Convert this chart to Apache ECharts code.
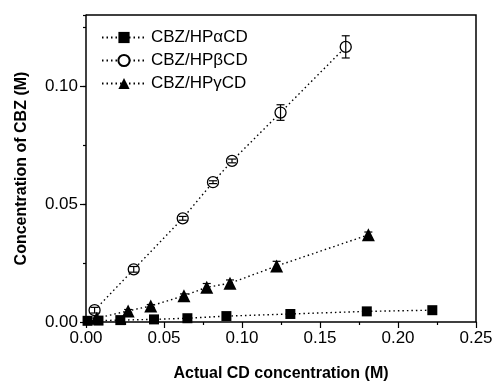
<!DOCTYPE html>
<html>
<head>
<meta charset="utf-8">
<script src="https://cdn.jsdelivr.net/npm/echarts@6/dist/echarts.min.js"></script>
<style>
  html, body { margin: 0; padding: 0; background: #fff; }
  #chart { width: 496px; height: 383px; }
</style>
</head>
<body>
<div id="chart"></div>
<script>
// CBZ/HPaCD
var alphaX = [0.001, 0.008, 0.022, 0.0436, 0.065, 0.090, 0.131, 0.180, 0.222];
var alphaY = [0.0005, 0.0006, 0.0008, 0.0011, 0.0016, 0.0025, 0.0034, 0.0045, 0.005];

// CBZ/HPbCD
var betaX = [0.0055, 0.0306, 0.062, 0.0814, 0.0936, 0.1247, 0.1665];
var betaY = [0.005, 0.0223, 0.0439, 0.0592, 0.0682, 0.0887, 0.1165];
var betaErr = [0.0012, 0.0012, 0.0008, 0.0006, 0.0008, 0.0033, 0.0047];

// CBZ/HPgCD
var gammaX = [0.0069, 0.027, 0.0415, 0.0628, 0.0774, 0.0923, 0.1222, 0.181];
var gammaY = [0.0016, 0.0047, 0.0068, 0.0111, 0.0147, 0.0164, 0.0237, 0.0369];
var gammaErr = [0, 0.0006, 0.0006, 0.0008, 0.0016, 0.0014, 0.002, 0.0012];

var xTicks = ['0.00', '0.05', '0.10', '0.15', '0.20', '0.25'];
var yTicks = [0, 0.05, 0.10];
var xMax = 0.25, yMax = 0.13;

function pairs(xs, ys) {
  var out = [];
  for (var i = 0; i < xs.length; i++) out.push([xs[i], ys[i]]);
  return out;
}
function errData(xs, ys, es) {
  var out = [];
  for (var i = 0; i < xs.length; i++) out.push([xs[i], ys[i] - es[i], ys[i] + es[i]]);
  return out;
}

function renderErr(params, api) {
  var lo = api.coord([api.value(0), api.value(1)]);
  var hi = api.coord([api.value(0), api.value(2)]);
  var w = 4;
  var st = { stroke: '#000', lineWidth: 1.2 };
  return {
    type: 'group',
    children: [
      { type: 'line', shape: { x1: lo[0], y1: lo[1], x2: hi[0], y2: hi[1] }, style: st },
      { type: 'line', shape: { x1: lo[0] - w, y1: lo[1], x2: lo[0] + w, y2: lo[1] }, style: st },
      { type: 'line', shape: { x1: hi[0] - w, y1: hi[1], x2: hi[0] + w, y2: hi[1] }, style: st }
    ]
  };
}

// top and right edges of the plot box
function renderFrame(params, api) {
  var tl = api.coord([0, yMax]);
  var tr = api.coord([xMax, yMax]);
  var br = api.coord([xMax, 0]);
  return {
    type: 'polyline',
    shape: { points: [tl, tr, br] },
    style: { stroke: '#000', lineWidth: 1.5, fill: null }
  };
}

var lineStyle = { color: '#000', width: 1.4, type: [1.5, 3] };
var font = 'Liberation Sans, Arial, sans-serif';
var axisLine = { show: true, onZero: false, lineStyle: { color: '#000', width: 1.5 } };
var tickStyle = { color: '#000', width: 1.2 };

var chart = echarts.init(document.getElementById('chart'));
chart.setOption({
  animation: false,
  backgroundColor: '#fff',
  textStyle: { fontFamily: font },
  grid: { left: 86, right: 20, top: 15, bottom: 61, outerBoundsMode: 'none' },
  legend: {
    left: 96, top: 24, orient: 'vertical', itemGap: 6,
    itemWidth: 44, itemHeight: 14,
    textStyle: { fontSize: 17, color: '#000', fontFamily: font },
    data: ['CBZ/HP\u03b1CD', 'CBZ/HP\u03b2CD', 'CBZ/HP\u03b3CD']
  },
  xAxis: {
    type: 'value', min: 0, max: xMax, interval: 0.05,
    name: 'Actual CD concentration (M)', nameLocation: 'middle', nameGap: 44,
    nameTextStyle: { fontSize: 16, fontWeight: 'bold', color: '#000', fontFamily: font },
    axisLine: axisLine,
    axisTick: { show: true, inside: false, length: 6, lineStyle: tickStyle },
    minorTick: { show: true, splitNumber: 2, length: 3, lineStyle: tickStyle },
    axisLabel: { fontSize: 17, color: '#000', margin: 8,
      formatter: function (v) { return xTicks[Math.round(v / 0.05)]; } },
    splitLine: { show: false }
  },
  yAxis: [
    {
      type: 'value', min: 0, max: yMax, interval: 0.05,
      name: 'Concentration of CBZ (M)', nameLocation: 'middle', nameGap: 56,
      nameTextStyle: { fontSize: 16, fontWeight: 'bold', color: '#000', fontFamily: font },
      axisLine: axisLine,
      axisTick: { show: true, inside: false, length: 6, lineStyle: tickStyle, customValues: yTicks },
      axisLabel: { fontSize: 17, color: '#000', margin: 8, customValues: yTicks,
        formatter: function (v) { return v.toFixed(2); } },
      splitLine: { show: false }
    },
    {
      // minor ticks every 0.025
      type: 'value', position: 'left', min: 0, max: yMax, interval: 0.025,
      axisLine: { show: false, onZero: false },
      axisTick: { show: true, inside: false, length: 3, lineStyle: tickStyle },
      axisLabel: { show: false }, splitLine: { show: false }
    }
  ],
  series: [
    {
      name: 'CBZ/HP\u03b1CD', type: 'line', data: pairs(alphaX, alphaY),
      symbol: 'rect', symbolSize: 10, lineStyle: lineStyle,
      itemStyle: { color: '#000' }, z: 3
    },
    {
      name: 'CBZ/HP\u03b2CD', type: 'line', data: pairs(betaX, betaY),
      symbol: 'circle', symbolSize: 11, showAllSymbol: true, lineStyle: lineStyle,
      itemStyle: { color: '#fff', borderColor: '#000', borderWidth: 1.3 }, z: 3
    },
    {
      name: 'CBZ/HP\u03b3CD', type: 'line', data: pairs(gammaX, gammaY),
      symbol: 'triangle', symbolSize: 13, lineStyle: lineStyle,
      itemStyle: { color: '#000' }, z: 3
    },
    {
      type: 'custom', renderItem: renderErr, data: errData(betaX, betaY, betaErr),
      encode: { x: 0, y: [1, 2] }, z: 4, silent: true
    },
    {
      type: 'custom', renderItem: renderErr, data: errData(gammaX, gammaY, gammaErr),
      encode: { x: 0, y: [1, 2] }, z: 4, silent: true
    },
    {
      type: 'custom', renderItem: renderFrame, data: [[xMax, yMax]],
      encode: { x: 0, y: 1 }, clip: false, z: 5, silent: true
    }
  ]
});
</script>
</body>
</html>
